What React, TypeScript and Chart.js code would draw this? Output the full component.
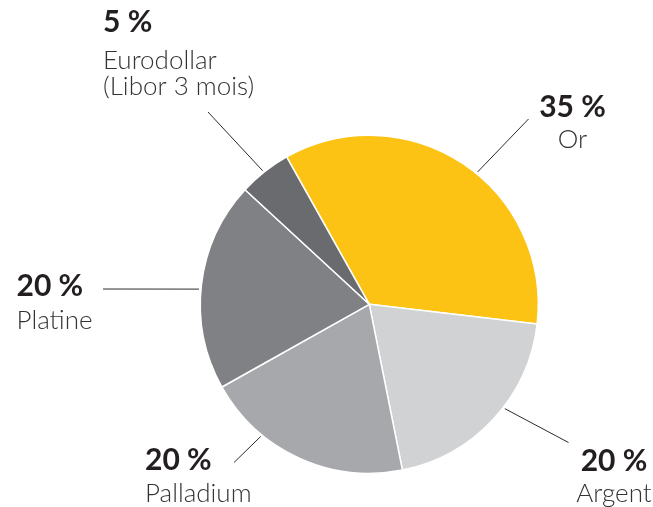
import React, { useEffect, useRef } from "react";
import { Chart, registerables } from "chart.js";

Chart.register(...registerables);

const categories = ["Or", "Argent", "Palladium", "Platine", "Eurodollar\n(Libor 3 mois)"];
const shares = [35, 20, 20, 20, 5];
const sliceColors = ["#FDC314", "#D1D2D4", "#A7A8AB", "#808184", "#6A6B6F"];

// label layout (text anchors, leader line geometry)
const labelLayout = [
  { x: 572.5, align: "center", pctY: 117, nameY: [147.5], lineAngle: 39.3, lineEnd: [528.5, 119] },
  { x: 614, align: "center", pctY: 471, nameY: [502], lineAngle: 127.6, lineEnd: [568.5, 442.5] },
  { x: 145, align: "left", pctY: 470, nameY: [502], lineAngle: 219.4, lineEnd: [234, 462.5] },
  { x: 16.5, align: "left", pctY: 296, nameY: [328.5], lineAngle: 275.1, lineEnd: [103, 289] },
  { x: 103, align: "left", pctY: 32, nameY: [68.5, 95], lineAngle: 321.4, lineEnd: [208, 112] },
];

const labelPlugin = {
  id: "leaderLabels",
  afterDraw(chart: any) {
    const ctx = chart.ctx as CanvasRenderingContext2D;
    const meta = chart.getDatasetMeta(0);
    ctx.save();
    meta.data.forEach((arc: any, i: number) => {
      const { x, y, outerRadius } = arc.getProps(["x", "y", "outerRadius"], true);
      const L = labelLayout[i];
      const a = ((L.lineAngle - 90) * Math.PI) / 180;
      const r = outerRadius + 2;
      ctx.beginPath();
      ctx.strokeStyle = "#2b2b2b";
      ctx.lineWidth = 1;
      ctx.moveTo(x + Math.cos(a) * r, y + Math.sin(a) * r);
      ctx.lineTo(L.lineEnd[0], L.lineEnd[1]);
      ctx.stroke();

      ctx.textAlign = L.align as CanvasTextAlign;
      ctx.textBaseline = "alphabetic";
      ctx.fillStyle = "#231F20";
      ctx.font = "bold 30px Lato";
      ctx.fillText(`${shares[i]} %`, L.x, L.pctY);
      ctx.fillStyle = "#333333";
      ctx.font = "300 26px Lato";
      const lines = categories[i].split("\n");
      lines.forEach((t, k) => ctx.fillText(t, L.x, L.nameY[k]));
    });
    ctx.restore();
  },
};

export default function App() {
  const ref = useRef<HTMLCanvasElement>(null);
  useEffect(() => {
    if (!ref.current) return;
    const chart = new Chart(ref.current, {
      type: "pie",
      data: {
        labels: categories.map((c) => c.replace("\n", " ")),
        datasets: [
          {
            data: shares,
            backgroundColor: sliceColors,
            borderColor: "#ffffff",
            borderWidth: 1.5,
            radius: 169,
          },
        ],
      },
      options: {
        animation: false,
        responsive: false,
        rotation: -29.3,
        layout: { padding: { left: 200.3, right: 114.7, top: 135.3, bottom: 33.7 } },
        plugins: { legend: { display: false }, tooltip: { enabled: false } },
      },
      plugins: [labelPlugin],
    });
    return () => chart.destroy();
  }, []);
  return (
    <div style={{ position: "fixed", left: 0, top: 0, width: 653, height: 507, background: "#fff" }}>
      <canvas ref={ref} width={653} height={507} />
    </div>
  );
}
